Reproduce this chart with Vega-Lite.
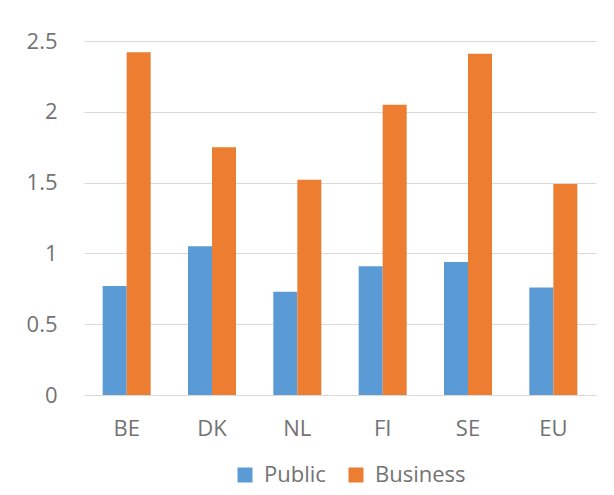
{
  "$schema": "https://vega.github.io/schema/vega-lite/v6.json",
  "width": 512,
  "height": 354,
  "autosize": {"type": "none"},
  "padding": {"left": 84, "top": 41, "right": 18, "bottom": 100},
  "background": "white",
  "data": {
    "values": [
      {"country": "BE", "type": "Public", "value": 0.77},
      {"country": "BE", "type": "Business", "value": 2.42},
      {"country": "DK", "type": "Public", "value": 1.05},
      {"country": "DK", "type": "Business", "value": 1.75},
      {"country": "NL", "type": "Public", "value": 0.73},
      {"country": "NL", "type": "Business", "value": 1.52},
      {"country": "FI", "type": "Public", "value": 0.91},
      {"country": "FI", "type": "Business", "value": 2.05},
      {"country": "SE", "type": "Public", "value": 0.94},
      {"country": "SE", "type": "Business", "value": 2.41},
      {"country": "EU", "type": "Public", "value": 0.76},
      {"country": "EU", "type": "Business", "value": 1.49}
    ]
  },
  "mark": {"type": "bar"},
  "encoding": {
    "x": {
      "field": "country",
      "type": "nominal",
      "sort": ["BE", "DK", "NL", "FI", "SE", "EU"],
      "scale": {"paddingInner": 0.4375, "paddingOuter": 0.21875},
      "axis": {
        "title": null,
        "labelAngle": 0,
        "ticks": false,
        "domainColor": "#D9D9D9",
        "domainWidth": 1.2,
        "labelFont": "Open Sans",
        "labelFontSize": 22,
        "labelColor": "#737373",
        "labelPadding": 23
      }
    },
    "xOffset": {"field": "type", "type": "nominal", "sort": ["Public", "Business"]},
    "y": {
      "field": "value",
      "type": "quantitative",
      "scale": {"domain": [0, 2.5], "nice": false},
      "axis": {
        "title": null,
        "values": [0, 0.5, 1, 1.5, 2, 2.5],
        "format": "~g",
        "domain": false,
        "ticks": false,
        "gridColor": "#D9D9D9",
        "gridWidth": 1.2,
        "labelFont": "Open Sans",
        "labelFontSize": 22,
        "labelColor": "#737373",
        "labelPadding": 27
      }
    },
    "color": {
      "field": "type",
      "type": "nominal",
      "scale": {"domain": ["Public", "Business"], "range": ["#5B9BD5", "#ED7D31"]},
      "legend": {
        "title": null,
        "orient": "none",
        "legendX": 150,
        "legendY": 423,
        "direction": "horizontal",
        "symbolType": "square",
        "symbolSize": 225,
        "symbolStrokeWidth": 0,
        "labelFont": "Open Sans",
        "labelFontSize": 22,
        "labelColor": "#737373",
        "labelOffset": 8,
        "columnPadding": 19
      }
    }
  },
  "config": {"view": {"stroke": null}}
}
